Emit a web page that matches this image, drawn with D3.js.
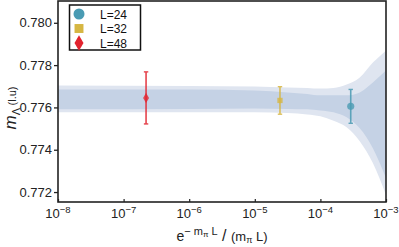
<!DOCTYPE html>
<html>
<head>
<meta charset="utf-8">
<script src="https://cdn.jsdelivr.net/npm/d3@7"></script>
<style>
  html, body { margin: 0; padding: 0; background: #fff; }
  svg { display: block; font-family: "Liberation Sans", Arial, sans-serif; }
</style>
</head>
<body>
<svg id="chart" width="399" height="247"></svg>
<script>
// ---- data ----
const seriesLabels = ["L=24", "L=32", "L=48"];
const seriesX      = [2.9e-4, 2.42e-5, 2.2e-7];
const seriesY      = [0.77605, 0.77633, 0.77645];
const seriesErr    = [0.00080, 0.00065, 0.00123];
const seriesColor  = ["#4a9bb3", "#d6b642", "#e2232e"];
const seriesShape  = ["circle", "square", "diamond"];

// fit bands, sampled at log10(x)
const bandLogX     = [-8, -6, -5, -4.5, -4.2, -4, -3.8, -3.6, -3.4, -3.2, -3.0];
const outerUpper   = [0.77704, 0.77701, 0.77699, 0.77694, 0.77692, 0.77689, 0.77692, 0.77708, 0.77741, 0.77812, 0.77868];
const outerLower   = [0.77577, 0.77577, 0.77577, 0.77574, 0.77567, 0.77558, 0.77537, 0.77506, 0.77440, 0.77337, 0.77186];
const innerUpper   = [0.77685, 0.77685, 0.77680, 0.77671, 0.77664, 0.77657, 0.77657, 0.77657, 0.77671, 0.77718, 0.77774];
const innerLower   = [0.77591, 0.77593, 0.77595, 0.77593, 0.77591, 0.77586, 0.77577, 0.77553, 0.77501, 0.77407, 0.77266];

const yTicks = [0.772, 0.774, 0.776, 0.778, 0.780];
const xTickExp = [-8, -7, -6, -5, -4, -3];

// ---- layout ----
const svg = d3.select("#chart");
const L = 58, R = 386, T = 1, B = 202;

const x = d3.scaleLog().domain([1e-8, 1e-3]).range([L, R]);
const y = d3.scaleLinear().domain([0.77153, 0.78103]).range([B, T]);

svg.append("defs").append("clipPath").attr("id", "plotclip")
  .append("rect").attr("x", L).attr("y", T).attr("width", R - L).attr("height", B - T);

const plot = svg.append("g").attr("clip-path", "url(#plotclip)");

function bandArea(upper, lower) {
  return d3.area()
    .x((d, i) => x(Math.pow(10, bandLogX[i])))
    .y0((d, i) => y(lower[i]))
    .y1((d, i) => y(upper[i]))
    .curve(d3.curveMonotoneX)(bandLogX);
}
plot.append("path").attr("d", bandArea(outerUpper, outerLower)).attr("fill", "#dfe5f0");
plot.append("path").attr("d", bandArea(innerUpper, innerLower)).attr("fill", "#c5d2e5");

// error bars and markers
const symbolType = { circle: d3.symbolCircle, square: d3.symbolSquare, diamond: d3.symbolDiamond };
const symbolSize = { circle: 40, square: 28, diamond: 30 };
seriesX.forEach((xv, i) => {
  const g = plot.append("g").attr("stroke", seriesColor[i]).attr("opacity", 0.85);
  const cx = x(xv);
  const y1 = y(seriesY[i] + seriesErr[i]), y0 = y(seriesY[i] - seriesErr[i]);
  g.append("line").attr("x1", cx).attr("x2", cx).attr("y1", y1).attr("y2", y0).attr("stroke-width", 1.6);
  g.append("line").attr("x1", cx - 2.2).attr("x2", cx + 2.2).attr("y1", y1).attr("y2", y1).attr("stroke-width", 1.4);
  g.append("line").attr("x1", cx - 2.2).attr("x2", cx + 2.2).attr("y1", y0).attr("y2", y0).attr("stroke-width", 1.4);
  plot.append("path")
    .attr("d", d3.symbol().type(symbolType[seriesShape[i]]).size(symbolSize[seriesShape[i]])())
    .attr("transform", `translate(${cx},${y(seriesY[i])})`)
    .attr("fill", seriesColor[i]).attr("opacity", 0.8);
});

// frame
svg.append("rect").attr("x", L).attr("y", T).attr("width", R - L).attr("height", B - T)
  .attr("fill", "none").attr("stroke", "#222").attr("stroke-width", 1.6);

// y axis
const yAxis = svg.append("g").attr("transform", `translate(${L},0)`)
  .call(d3.axisLeft(y).tickValues(yTicks).tickFormat(d3.format(".3f")).tickSize(4).tickPadding(2));
yAxis.select(".domain").remove();
yAxis.selectAll(".tick line").attr("stroke", "#222").attr("stroke-width", 1.3);
yAxis.selectAll("text").attr("font-size", 13).attr("fill", "#222")
  .attr("font-family", "'Liberation Sans', Arial, sans-serif");

// x axis
const xAxis = svg.append("g").attr("transform", `translate(0,${B})`)
  .call(d3.axisBottom(x).tickValues(xTickExp.map(e => Math.pow(10, e))).tickSize(-3).tickFormat(""));
xAxis.select(".domain").remove();
xAxis.selectAll(".tick line").attr("stroke", "#222").attr("stroke-width", 1.2);
xTickExp.forEach(e => {
  const t = svg.append("text").attr("x", x(Math.pow(10, e))).attr("y", 218)
    .attr("text-anchor", "middle").attr("fill", "#222").attr("font-size", 13);
  t.append("tspan").text("10");
  t.append("tspan").attr("dy", -5).attr("font-size", 9.5).text("\u2212" + Math.abs(e));
});

// x axis title
const xt = svg.append("text").attr("x", 222).attr("y", 241).attr("text-anchor", "middle")
  .attr("fill", "#222").attr("font-size", 14);
xt.append("tspan").text("e");
xt.append("tspan").attr("dy", -6).attr("font-size", 11).text("\u2212 m");
xt.append("tspan").attr("dy", 2).attr("font-size", 8).text("\u03c0");
xt.append("tspan").attr("dy", -2).attr("font-size", 11).text(" L");
xt.append("tspan").attr("dy", 6).attr("font-size", 16).text(" / ");
xt.append("tspan").attr("font-size", 13).text("(m");
xt.append("tspan").attr("dy", 2).attr("font-size", 9).text("\u03c0");
xt.append("tspan").attr("dy", -2).attr("font-size", 13).text(" L)");

// y axis title
const yt = svg.append("text").attr("transform", "translate(16,108) rotate(-90)")
  .attr("text-anchor", "middle").attr("fill", "#222");
yt.append("tspan").attr("font-size", 17).attr("font-style", "italic").text("m");
yt.append("tspan").attr("dy", 4).attr("font-size", 11).text("\u039b");
yt.append("tspan").attr("dy", -4).attr("font-size", 11).text(" (l.u)");

// legend
const lg = svg.append("g");
lg.append("rect").attr("x", 69.5).attr("y", 5).attr("width", 71).attr("height", 45)
  .attr("fill", "#fff").attr("stroke", "#111").attr("stroke-width", 1.5);
const legSize = { circle: 95, square: 80, diamond: 70 };
seriesLabels.forEach((lab, i) => {
  const cy = 14 + i * 14.5;
  lg.append("path")
    .attr("d", d3.symbol().type(symbolType[seriesShape[i]]).size(legSize[seriesShape[i]])())
    .attr("transform", `translate(79,${cy})`).attr("fill", seriesColor[i]);
  lg.append("text").attr("x", 100).attr("y", cy + 4.5).attr("font-size", 12).attr("fill", "#111").text(lab);
});
</script>
</body>
</html>
